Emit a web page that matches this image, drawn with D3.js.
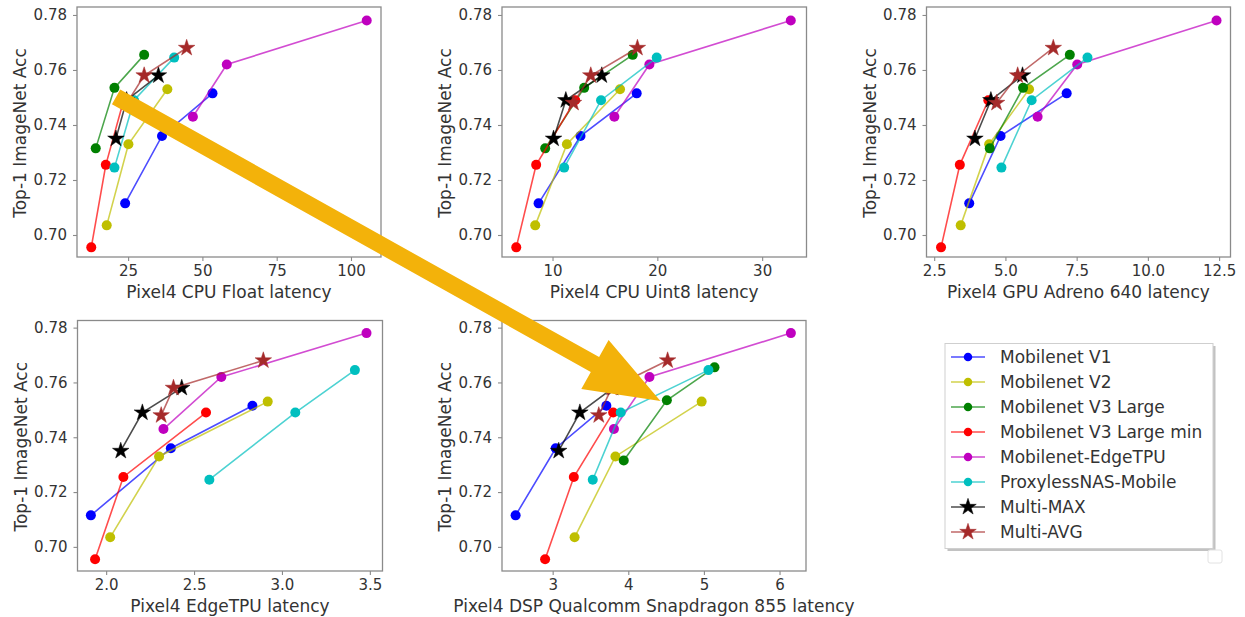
<!DOCTYPE html>
<html>
<head>
<meta charset="utf-8">
<script src="https://cdn.jsdelivr.net/npm/d3@7"></script>
<style>
  html, body { margin: 0; padding: 0; background: #fff; }
  svg { display: block; font-family: "DejaVu Sans", sans-serif; }
</style>
</head>
<body>
<script>
// ---------- data ----------
const models = ["Mobilenet V1", "Mobilenet V2", "Mobilenet V3 Large", "Mobilenet V3 Large min",
                "Mobilenet-EdgeTPU", "ProxylessNAS-Mobile", "Multi-MAX", "Multi-AVG"];
const colors = ["#0000ff", "#bfbf00", "#008000", "#ff0000", "#bf00bf", "#00bfbf", "#000000", "#a52a2a"];
const markerKinds = ["circle", "circle", "circle", "circle", "circle", "circle", "star", "star"];

// Top-1 ImageNet accuracy, per model
const accuracy = [
  [0.7115, 0.736, 0.7515],
  [0.7035, 0.733, 0.753],
  [0.7315, 0.7535, 0.7655],
  [0.6955, 0.7255, 0.749],
  [0.743, 0.762, 0.778],
  [0.7245, 0.749, 0.7645],
  [0.735, 0.749, 0.758],
  [0.748, 0.758, 0.768]
];

// latencies per device, per model (same order as models)
const latCpuFloat = [
  [24.0, 36.4, 53.4], [17.8, 25.1, 38.2], [14.1, 20.4, 30.4], [12.6, 17.5, 23.5],
  [46.8, 58.2, 105.3], [20.4, 27.0, 40.5], [20.9, 24.5, 35.2], [24.6, 30.4, 44.7]
];
const latCpuUint8 = [
  [8.67, 12.67, 18.03], [8.35, 11.37, 16.44], [9.30, 13.02, 17.65], [6.54, 8.44, 12.16],
  [15.9, 19.24, 32.73], [11.11, 14.63, 19.94], [10.1, 11.27, 14.7], [12.0, 13.65, 18.1]
];
const latGpu = [
  [3.73, 4.83, 7.15], [3.43, 4.43, 5.83], [4.45, 5.62, 7.26], [2.74, 3.40, 4.40],
  [6.13, 7.52, 12.41], [4.86, 5.92, 7.88], [3.93, 4.49, 5.60], [4.69, 5.43, 6.68]
];
const latEdgeTpu = [
  [1.913, 2.368, 2.832], [2.023, 2.301, 2.919], null, [1.937, 2.098, 2.568],
  [2.326, 2.655, 3.481], [2.587, 3.076, 3.415], [2.083, 2.206, 2.430], [2.313, 2.383, 2.894]
];
const latDsp = [
  [2.51, 3.04, 3.71], [3.29, 3.83, 4.97], [3.94, 4.51, 5.14], [2.90, 3.28, 3.80],
  [3.81, 4.28, 6.15], [3.53, 3.90, 5.06], [3.08, 3.36, 3.80], [3.61, 3.78, 4.52]
];

const yTicks = [0.70, 0.72, 0.74, 0.76, 0.78];
const ticksCpuFloat = [25, 50, 75, 100];
const ticksCpuUint8 = [10, 20, 30];
const ticksGpu = [2.5, 5.0, 7.5, 10.0, 12.5];
const ticksEdgeTpu = [2.0, 2.5, 3.0, 3.5];
const ticksDsp = [3, 4, 5, 6];

const yLabel = "Top-1 ImageNet Acc";

// ---------- layout ----------
const panels = [
  { label: "Pixel4 CPU Float latency", lat: latCpuFloat, ticks: ticksCpuFloat, fmt: d3.format("d"),
    xd: [7.8, 110.1], yd: [0.692, 0.7829], box: [77, 7, 381, 257] },
  { label: "Pixel4 CPU Uint8 latency", lat: latCpuUint8, ticks: ticksCpuUint8, fmt: d3.format("d"),
    xd: [5.18, 34.23], yd: [0.692, 0.7829], box: [502, 7, 806.5, 257] },
  { label: "Pixel4 GPU Adreno 640 latency", lat: latGpu, ticks: ticksGpu, fmt: d3.format(".1f"),
    xd: [2.23, 12.9], yd: [0.692, 0.7829], box: [926.5, 7, 1230.5, 257] },
  { label: "Pixel4 EdgeTPU latency", lat: latEdgeTpu, ticks: ticksEdgeTpu, fmt: d3.format(".1f"),
    xd: [1.837, 3.572], yd: [0.6912, 0.7826], box: [77.5, 320.5, 382.5, 571] },
  { label: "Pixel4 DSP Qualcomm Snapdragon 855 latency", lat: latDsp, ticks: ticksDsp, fmt: d3.format("d"),
    xd: [2.33, 6.35], yd: [0.6912, 0.7826], box: [502, 320.5, 806, 571] }
];

const W = 1245, H = 617;
const textColor = "#333";
const spineColor = "#8a8a8a";
const tickFont = 15;
const labelFont = 17;

const svg = d3.select("body").append("svg").attr("width", W).attr("height", H);
svg.append("rect").attr("width", W).attr("height", H).attr("fill", "#fff");

const starPath = d3.symbol().type(d3.symbolStar).size(85)();
const circleR = 5;

function drawMarker(g, kind, color, cx, cy, scale) {
  if (kind === "circle") {
    g.append("circle").attr("cx", cx).attr("cy", cy).attr("r", circleR * (scale || 1)).attr("fill", color);
  } else {
    g.append("path").attr("d", starPath)
      .attr("transform", `translate(${cx},${cy}) scale(${scale || 1})`)
      .attr("fill", color).attr("stroke", color).attr("stroke-width", 0.5);
  }
}

const scalesByPanel = [];

panels.forEach((p, pi) => {
  const [x0, y0, x1, y1] = p.box;
  const x = d3.scaleLinear().domain(p.xd).range([x0, x1]);
  const y = d3.scaleLinear().domain(p.yd).range([y1, y0]);
  scalesByPanel.push({ x, y });
  const g = svg.append("g");

  // data
  const lineGen = d3.line().x(d => x(d[0])).y(d => y(d[1]));
  models.forEach((m, mi) => {
    const lats = p.lat[mi];
    if (!lats) return;
    const pts = lats.map((v, k) => [v, accuracy[mi][k]]);
    const sg = g.append("g");
    sg.append("path").attr("d", lineGen(pts)).attr("fill", "none")
      .attr("stroke", colors[mi]).attr("stroke-width", 1.6).attr("stroke-opacity", 0.7);
    pts.forEach(pt => drawMarker(sg, markerKinds[mi], colors[mi], x(pt[0]), y(pt[1])));
  });

  // spines
  g.append("rect").attr("x", x0).attr("y", y0).attr("width", x1 - x0).attr("height", y1 - y0)
    .attr("fill", "none").attr("stroke", spineColor).attr("stroke-width", 1.3);

  // x axis
  const xa = d3.axisBottom(x).tickValues(p.ticks).tickFormat(p.fmt).tickSize(4).tickPadding(4);
  const xg = g.append("g").attr("transform", `translate(0,${y1})`).call(xa);
  xg.select(".domain").remove();
  xg.selectAll(".tick line").attr("stroke", spineColor).attr("stroke-width", 1.1);
  xg.selectAll(".tick text").attr("fill", textColor).attr("font-size", tickFont)
    .attr("font-family", "DejaVu Sans");

  // y axis
  const ya = d3.axisLeft(y).tickValues(yTicks).tickFormat(d3.format(".2f")).tickSize(4).tickPadding(6);
  const yg = g.append("g").attr("transform", `translate(${x0},0)`).call(ya);
  yg.select(".domain").remove();
  yg.selectAll(".tick line").attr("stroke", spineColor).attr("stroke-width", 1.1);
  yg.selectAll(".tick text").attr("fill", textColor).attr("font-size", tickFont)
    .attr("font-family", "DejaVu Sans");

  // labels
  g.append("text").attr("x", (x0 + x1) / 2).attr("y", y1 + 41)
    .attr("text-anchor", "middle").attr("fill", textColor).attr("font-size", labelFont)
    .text(p.label);
  g.append("text").attr("transform", `translate(${x0 - 51},${(y0 + y1) / 2 + 1}) rotate(-90)`)
    .attr("text-anchor", "middle").attr("fill", textColor).attr("font-size", labelFont)
    .text(yLabel);
});

// ---------- legend ----------
const lg = svg.append("g");
const lx = 945, ly = 343.5, lw = 268, lh = 205;
lg.append("rect").attr("x", lx + 2.5).attr("y", ly + 2.5).attr("width", lw).attr("height", lh)
  .attr("fill", "#9a9a9a").attr("opacity", 0.6);
lg.append("rect").attr("x", lx).attr("y", ly).attr("width", lw).attr("height", lh)
  .attr("fill", "#fff").attr("stroke", "#cfcfcf").attr("stroke-width", 1);
models.forEach((m, mi) => {
  const yy = ly + 13.5 + mi * 25;
  lg.append("line").attr("x1", lx + 6).attr("x2", lx + 40).attr("y1", yy).attr("y2", yy)
    .attr("stroke", colors[mi]).attr("stroke-width", 1.6).attr("stroke-opacity", 0.7);
  drawMarker(lg, markerKinds[mi], colors[mi], lx + 23, yy, markerKinds[mi] === "star" ? 1 : 0.85);
  lg.append("text").attr("x", lx + 55).attr("y", yy).attr("dy", "0.35em")
    .attr("fill", textColor).attr("font-size", labelFont).text(m);
});
// small stray box under legend corner
svg.append("rect").attr("x", 1208).attr("y", 550).attr("width", 14).attr("height", 13).attr("rx", 2)
  .attr("fill", "#fff").attr("stroke", "#e2e2e2").attr("stroke-width", 1);

// ---------- annotation arrow (from CPU Float panel to DSP panel) ----------
const arrowFrom = { panel: 0, lat: 20.96, acc: 0.7502 };
const arrowTo = { panel: 4, lat: 4.425, acc: 0.7532 };
const S = [scalesByPanel[arrowFrom.panel].x(arrowFrom.lat), scalesByPanel[arrowFrom.panel].y(arrowFrom.acc)];
const T = [scalesByPanel[arrowTo.panel].x(arrowTo.lat), scalesByPanel[arrowTo.panel].y(arrowTo.acc)];
const dx = T[0] - S[0], dy = T[1] - S[1], len = Math.hypot(dx, dy);
const u = [dx / len, dy / len], n = [-u[1], u[0]];
const hw = 8.5, HW = 28, HL = 75;
const B = [T[0] - u[0] * HL, T[1] - u[1] * HL];
const P = (p, k) => [p[0] + n[0] * k, p[1] + n[1] * k];
const arrowPts = [P(S, hw), P(B, hw), P(B, HW), T, P(B, -HW), P(B, -hw), P(S, -hw)];
svg.append("path").attr("d", d3.line()(arrowPts) + "Z").attr("fill", "#f3b20a");
</script>
</body>
</html>
